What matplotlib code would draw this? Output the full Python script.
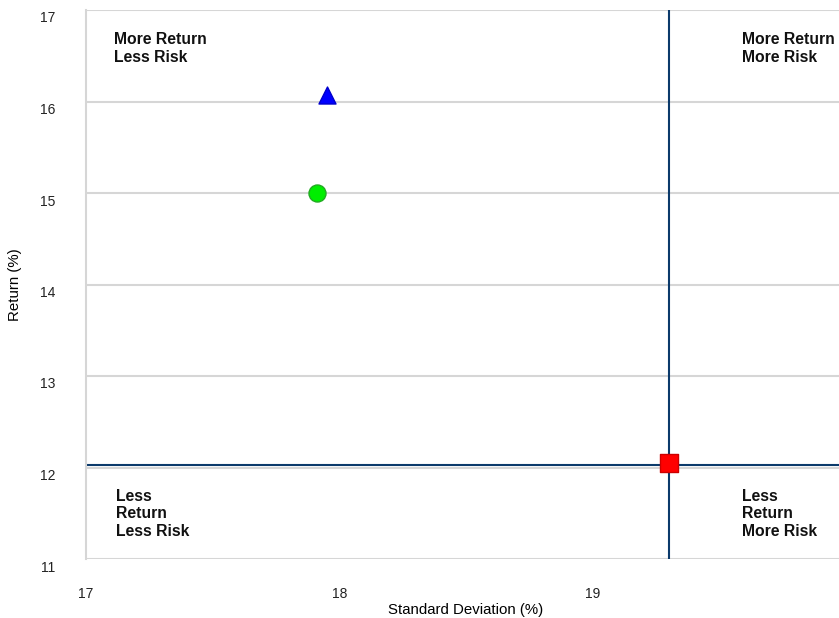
import matplotlib.pyplot as plt
import matplotlib.transforms as mtransforms

plt.rcParams['font.family'] = ['Liberation Sans', 'DejaVu Sans']

# points: (std dev, return)
pt_x = [17.95, 17.91, 19.30]
pt_y = [16.07, 15.00, 12.05]
pt_markers = ["^", "o", "s"]
pt_colors = ["#0000ff", "#00ee00", "#ff0000"]
pt_edges = ["#0000cc", "#22aa22", "#cc0000"]

ref_x = 19.30
ref_y = 12.03

x_ticks = [17, 18, 19, 20]
y_ticks = [11, 12, 13, 14, 15, 16, 17]

quad_labels = ["More Return\nLess Risk", "More Return\nMore Risk",
               "Less\nReturn\nLess Risk", "Less\nReturn\nMore Risk"]
quad_x = [17.11, 19.59, 17.12, 19.59]
quad_y = [16.76, 16.76, 11.77, 11.77]

fig = plt.figure(figsize=(8.39, 6.18), dpi=100)
ax = fig.add_axes([86 / 839, 1 - 559 / 618, 760 / 839, 549 / 618])

ax.set_xlim(17, 20)
ax.set_ylim(11, 17)
ax.set_xticks(x_ticks)
ax.set_yticks(y_ticks)
ax.grid(axis="y", color="#d6d6d6", linewidth=1.5)
ax.set_axisbelow(True)
for s in ["top", "right", "bottom"]:
    ax.spines[s].set_visible(False)
ax.spines["left"].set_color("#d6d6d6")
ax.spines["left"].set_linewidth(1.5)
ax.tick_params(length=0, labelsize=10, colors="#222222")
ax.tick_params(axis="y", pad=22)
ax.tick_params(axis="x", pad=20)

# y tick labels sit a little below their gridlines
shift = mtransforms.ScaledTranslation(0, -0.07, fig.dpi_scale_trans)
for lbl in ax.get_yticklabels():
    lbl.set_transform(lbl.get_transform() + shift)

ax.axvline(ref_x, color="#0b3a6b", linewidth=1.5, zorder=2)
ax.axhline(ref_y, color="#0b3a6b", linewidth=1.5, zorder=2)

for x, y, m, c, e in zip(pt_x, pt_y, pt_markers, pt_colors, pt_edges):
    ax.scatter([x], [y], marker=m, s=150, color=c, edgecolor=e, linewidth=1, zorder=3)

for lbl, x, y in zip(quad_labels, quad_x, quad_y):
    ax.text(x, y, lbl, fontsize=11.3, fontweight="bold", va="top", ha="left",
            color="#111111", linespacing=1.22)

ax.set_xlabel("Standard Deviation (%)", fontsize=10.8)
ax.set_ylabel("Return (%)", fontsize=10.8)
ax.xaxis.label.set_va("center")
ax.yaxis.label.set_va("center")
ax.xaxis.set_label_coords(0.5, (559 - 610) / 549)
ax.yaxis.set_label_coords((15 - 86) / 760, 0.5)

fig.savefig("out.png", dpi=100)
